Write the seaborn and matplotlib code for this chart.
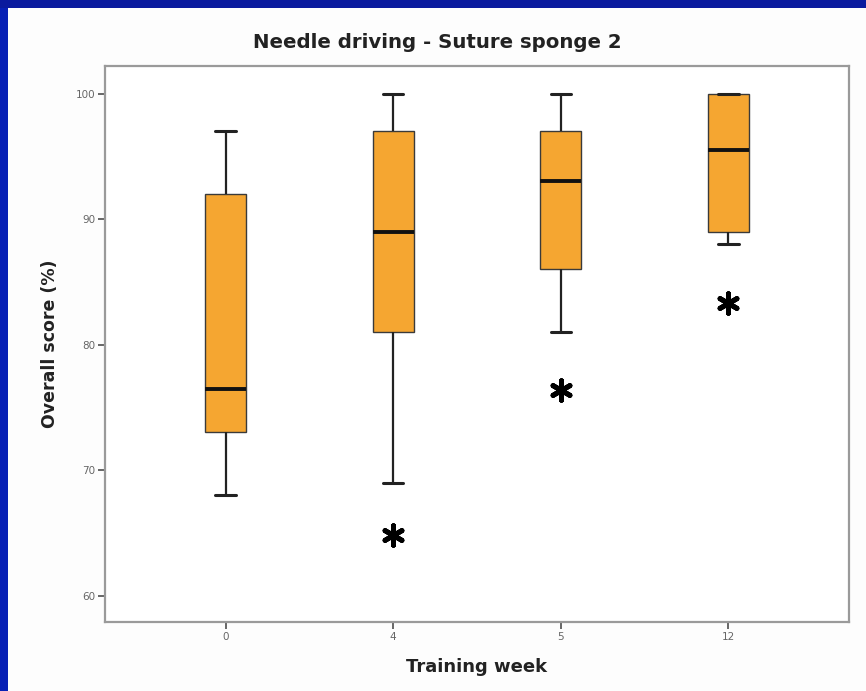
import matplotlib
matplotlib.use("Agg")
import matplotlib.pyplot as plt
import seaborn as sns
import pandas as pd
from matplotlib.patches import Rectangle

# Data (per training week: min whisker, Q1, median, Q3, max whisker)
weeks = ["0", "4", "5", "12"]
whisker_low = [68, 69, 81, 88]
q1 = [73, 81, 86, 89]
median = [76.5, 89, 93, 95.5]
q3 = [92, 97, 97, 100]
whisker_high = [97, 100, 100, 100]
outlier_weeks = ["4", "5", "12"]
outlier_values = [64.8, 76.4, 83.3]

rows = []
for i, w in enumerate(weeks):
    for v in (whisker_low[i], q1[i], median[i], q3[i], whisker_high[i]):
        rows.append({"week": w, "score": v})
box_df = pd.DataFrame(rows)
out_df = pd.DataFrame({"week": outlier_weeks, "score": outlier_values})

sns.set_theme(style="white")
plt.rcParams["font.family"] = ["DejaVu Sans"]

fig = plt.figure(figsize=(8.66, 6.91), dpi=100, facecolor="#FDFDFD")
ax = fig.add_axes([105 / 866, 1 - 622 / 691, (849 - 105) / 866, (622 - 66) / 691])
ax.set_facecolor("white")

sns.boxplot(
    data=box_df, x="week", y="score", order=weeks, whis=(0, 100),
    width=0.245, color="#F5A631", saturation=1, ax=ax,
    boxprops=dict(edgecolor="#3a3a3a", linewidth=1.0),
    whiskerprops=dict(color="#222222", linewidth=1.6),
    capprops=dict(color="#222222", linewidth=2.2),
    medianprops=dict(color="#111111", linewidth=2.8),
    showfliers=False,
)

sns.stripplot(
    data=out_df, x="week", y="score", order=weeks, jitter=False,
    marker=(6, 2, 0), size=14, color="black", edgecolor="black",
    linewidth=3.6, ax=ax,
)

ax.set_xlim(-0.72, 3.72)
ax.set_ylim(57.9, 102.2)
ax.set_yticks([60, 70, 80, 90, 100])

for s in ax.spines.values():
    s.set_color("#9a9a9a")
    s.set_linewidth(1.6)

ax.tick_params(axis="both", which="major", direction="out", length=5, width=1.4,
               color="#666666", labelcolor="#666666", labelsize=7.5, pad=2,
               left=True, bottom=True)

ax.set_xlabel("Training week", fontsize=13, fontweight="bold", color="#222222", labelpad=12)
ax.set_ylabel("Overall score (%)", fontsize=12.5, fontweight="bold", color="#222222", labelpad=12)

fig.text(437 / 866, 1 - 43 / 691, "Needle driving - Suture sponge 2", ha="center", va="center",
         fontsize=14.2, fontweight="bold", color="#222222")

# blue slide frame
fig.patches.append(Rectangle((0, 0), 8 / 866, 1, transform=fig.transFigure,
                             facecolor="#0720B5", edgecolor="none", zorder=10))
fig.patches.append(Rectangle((0, 1 - 8 / 691), 1, 8 / 691, transform=fig.transFigure,
                             facecolor="#0A1A9E", edgecolor="none", zorder=10))

fig.savefig("out.png", dpi=100, facecolor=fig.get_facecolor())
